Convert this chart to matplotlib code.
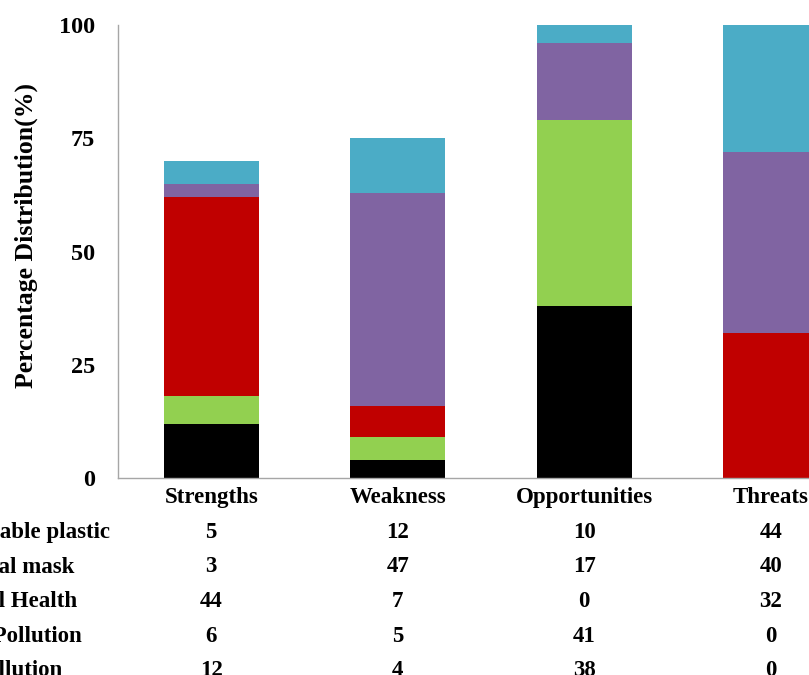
import matplotlib
matplotlib.use("Agg")
import matplotlib.pyplot as plt
import numpy as np

# Categories and series (table rows listed top to bottom)
categories = ["Strengths", "Weakness", "Opportunities", "Threats"]
series_names = ["Disposable plastic", "Surgical mask", "Mental Health",
                "Land Pollution", "Air Pollution"]
disposable_plastic = [5, 12, 10, 44]
surgical_mask = [3, 47, 17, 40]
mental_health = [44, 7, 0, 32]
land_pollution = [6, 5, 41, 0]
air_pollution = [12, 4, 38, 0]
y_ticks = [0, 25, 50, 75, 100]

table_rows = [disposable_plastic, surgical_mask, mental_health,
              land_pollution, air_pollution]
colors = ["#4BACC6", "#8064A2", "#C00000", "#92D050", "#000000"]

plt.rcParams["font.family"] = ["Liberation Serif", "DejaVu Serif"]
plt.rcParams["font.weight"] = "bold"

W, H = 809, 675
fig = plt.figure(figsize=(W / 100, H / 100), dpi=100)
ax = fig.add_axes([118 / W, 197 / H, 746 / W, 453 / H])

x = np.arange(len(categories))
bottom = np.zeros(len(categories))
# stack from the bottom row of the table upwards
for vals, col in zip(reversed(table_rows), reversed(colors)):
    ax.bar(x, vals, width=0.51, bottom=bottom, color=col, linewidth=0)
    bottom += np.array(vals)

ax.set_xlim(-0.5, 3.5)
ax.set_ylim(0, 100)
ax.set_yticks(y_ticks)
ax.set_yticklabels([str(t) for t in y_ticks], fontsize=17.5, fontweight="bold")
ax.tick_params(axis="y", length=0, pad=16.5)
ax.set_xticks([])
for s in ["top", "right"]:
    ax.spines[s].set_visible(False)
for s in ["left", "bottom"]:
    ax.spines[s].set_color("#a6a6a6")
    ax.spines[s].set_linewidth(1.0)

fig.text(26 / W, 1 - 236 / H, "Percentage Distribution(%)", rotation=90,
         ha="center", va="center", fontsize=18.5, fontweight="bold")

# data table under the plot
fs = 16.5
fig.canvas.draw()
to_fig = fig.transFigure.inverted()


def data_x_to_fig(xv):
    px = ax.transData.transform((xv, 0))[0]
    return px / W


header_base = 503
for xi, cat in zip(x, categories):
    fig.text(data_x_to_fig(xi), 1 - header_base / H, cat, ha="center",
             va="baseline", fontsize=fs, fontweight="bold")

row_base0 = 538
row_step = 34.5
label_x = -65
for r, (name, vals) in enumerate(zip(series_names, table_rows)):
    ybase = row_base0 + r * row_step
    fig.text(label_x / W, 1 - ybase / H, name, ha="left", va="baseline",
             fontsize=fs, fontweight="bold")
    for xi, v in zip(x, vals):
        fig.text(data_x_to_fig(xi), 1 - ybase / H, str(v), ha="center",
                 va="baseline", fontsize=fs, fontweight="bold")

fig.savefig("out.png", dpi=100)
